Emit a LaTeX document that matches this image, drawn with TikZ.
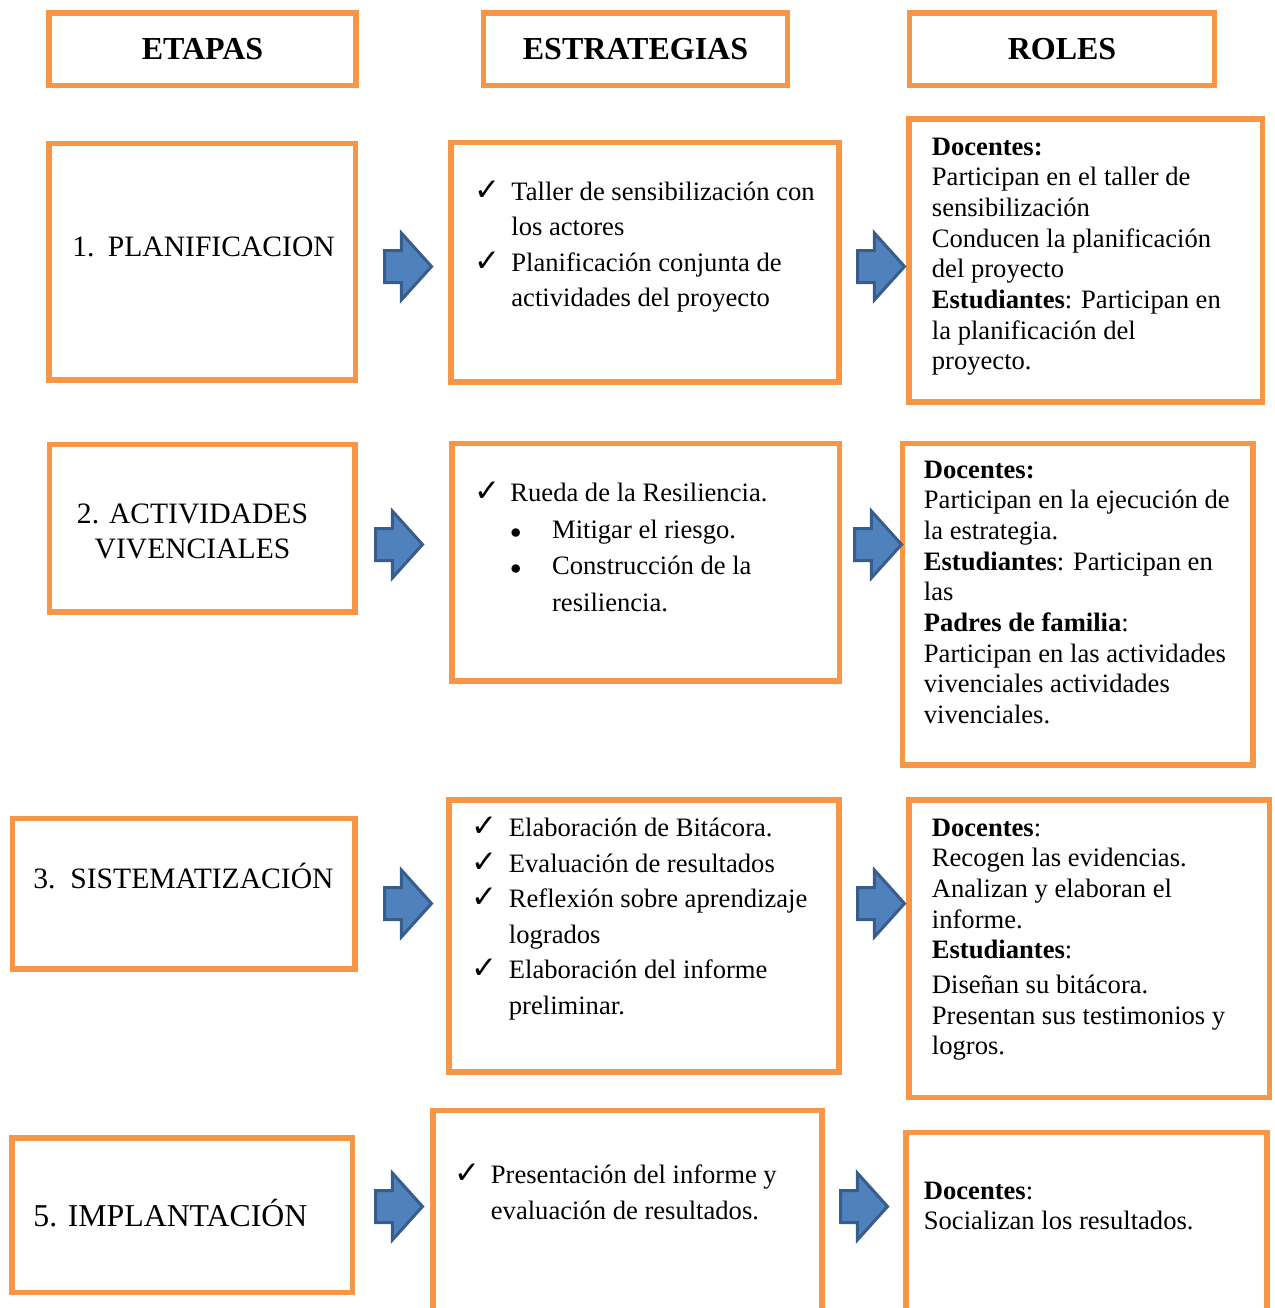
\documentclass[tikz,border=0pt]{standalone}
\usepackage{fontspec}
\setmainfont{Liberation Serif}
\newfontfamily\simbolos{DejaVu Sans}
\usetikzlibrary{shapes.arrows,fit}
\definecolor{naranja}{HTML}{F79646}
\definecolor{azul}{HTML}{4F81BD}
\definecolor{azulborde}{HTML}{385D8A}
\newcommand{\chk}{{\simbolos\fontsize{15.5}{12}\selectfont ✓}}
\newcommand{\vineta}{{\fontsize{11}{11}\selectfont$\bullet$}}
\begin{document}
\begin{tikzpicture}[x=0.5pt,y=-0.5pt]
	\tikzstyle{caja}   = [draw=naranja, line width=2.75pt, inner sep=0pt, outer sep=0pt]
	\tikzstyle{titulo} = [font=\fontsize{16}{19}\selectfont\bfseries, inner sep=0pt]
	\tikzstyle{etapa}  = [font=\fontsize{14.8}{17.5}\selectfont, inner sep=0pt, anchor=base west]
	\tikzstyle{estr}   = [font=\fontsize{13.3}{17.75}\selectfont, inner sep=0pt, anchor=base west]
	\tikzstyle{rol}    = [font=\fontsize{13.3}{15.35}\selectfont, inner sep=0pt, anchor=base west]
	\tikzstyle{flecha} = [single arrow, fill=azul, draw=azulborde, line width=1.5pt, inner xsep=0pt, inner ysep=7.25pt,
		minimum height=23.5pt, single arrow head extend=8.75pt, single arrow tip angle=96, anchor=tail]

	\clip (0,0) rectangle (1275,1308);

	% cabeceras
	\foreach \n/\t/\xa/\xb in {cetapas/ETAPAS/49/356, cestr/ESTRATEGIAS/483.5/787.5, croles/ROLES/909.5/1214.5} {
		\node[caja, fit={(\xa,13) (\xb,85.5)}] (\n) {};
		\node[titulo] (\n-t) at (\n.center) {\t};
	}

	% cajas
	\foreach \n/\xa/\ya/\xb/\yb in {e1/49/143.5/355.5/380, e2/49.5/444.5/355/612, e3/12.5/818.5/355/969, e4/12/1138/352.5/1292.5,
		s1/451/142.5/839/382, s2/452/443.5/839.5/681, s3/449/800/839/1072, s4/433/1110.5/822/1330,
		r1/909/119/1262.5/402, r2/902.5/443.5/1253/765, r3/909/800/1269.5/1097.5, r4/906/1132.5/1267/1330}
		\node[caja, fit={(\xa,\ya) (\xb,\yb)}] (\n) {};

	% flechas
	\foreach \n/\x/\y in {f1a/383/266.5, f1b/856/266.5, f2a/374/544.5, f2b/853/544.5,
		f3a/383/903.5, f3b/856/903.5, f4a/374/1206.5, f4b/839/1206.5}
		\node[flecha] (\n) at (\x,\y) {};

	% etapas
	\node[etapa] (e1t) at (72,256) {\makebox[17.75pt][l]{1.}PLANIFICACION};
	\node[etapa, anchor=base] (e2t) at (192.5,523) {\begin{tabular}[t]{@{}c@{}}2. ACTIVIDADES\\VIVENCIALES\end{tabular}};
	\node[etapa] (e3t) at (33,888) {\makebox[18.5pt][l]{3.}SISTEMATIZACIÓN};
	\node[etapa, font=\fontsize{15.9}{18}\selectfont] (e4t) at (33,1226) {5. IMPLANTACIÓN};

	% estrategias
	\node[estr] (s1t) at (474,200) {\begin{tabular}[t]{@{}p{18.5pt}@{}l@{}}
		\chk & Taller de sensibilización con\\
		     & los actores\\
		\chk & Planificación conjunta de\\
		     & actividades del proyecto
	\end{tabular}};
	\node[estr, font=\fontsize{13.3}{18.25}\selectfont] (s2t) at (474,501.5) {\begin{tabular}[t]{@{}p{18pt}@{}p{20.85pt}@{}l@{}}
		\chk & \multicolumn{2}{@{}l@{}}{Rueda de la Resiliencia.}\\
		     & \vineta & Mitigar el riesgo.\\
		     & \vineta & Construcción de la\\
		     &         & resiliencia.
	\end{tabular}};
	\node[estr] (s3t) at (471,836.5) {\begin{tabular}[t]{@{}p{18.75pt}@{}l@{}}
		\chk & Elaboración de Bitácora.\\
		\chk & Evaluación de resultados\\
		\chk & Reflexión sobre aprendizaje\\
		     & logrados\\
		\chk & Elaboración del informe\\
		     & preliminar.
	\end{tabular}};
	\node[estr] (s4t) at (454,1183.5) {\begin{tabular}[t]{@{}p{18.25pt}@{}l@{}}
		\chk & Presentación del informe y\\
		     & evaluación de resultados.
	\end{tabular}};

	% roles
	\node[rol] (r1t) at (931.5,155) {\begin{tabular}[t]{@{}l@{}}
		\textbf{Docentes:}\\
		Participan en el taller de\\
		sensibilización\\
		Conducen la planificación\\
		del proyecto\\
		\textbf{Estudiantes}: Participan en\\
		la planificación del\\
		proyecto.
	\end{tabular}};
	\node[rol] (r2t) at (923.5,478) {\begin{tabular}[t]{@{}l@{}}
		\textbf{Docentes:}\\
		Participan en la ejecución de\\
		la estrategia.\\
		\textbf{Estudiantes}: Participan en\\
		las\\
		\textbf{Padres de familia}:\\
		Participan en las actividades\\
		vivenciales actividades\\
		vivenciales.
	\end{tabular}};
	\node[rol] (r3t) at (931.5,836) {\begin{tabular}[t]{@{}l@{}}
		\textbf{Docentes}:\\
		Recogen las evidencias.\\
		Analizan y elaboran el\\
		informe.\\
		\textbf{Estudiantes}:\\[2pt]
		Diseñan su bitácora.\\
		Presentan sus testimonios y\\
		logros.
	\end{tabular}};
	\node[rol] (r4t) at (923.5,1199) {\begin{tabular}[t]{@{}l@{}}
		\textbf{Docentes}:\\
		Socializan los resultados.
	\end{tabular}};
\end{tikzpicture}
\end{document}
